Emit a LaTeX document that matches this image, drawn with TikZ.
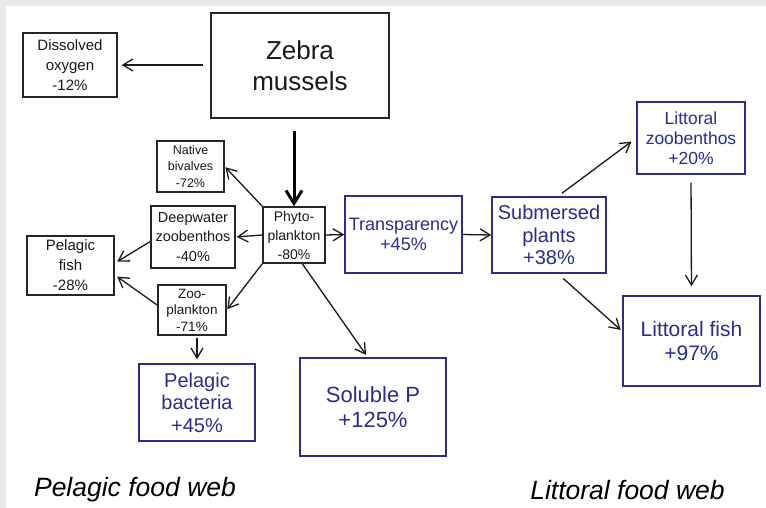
\documentclass[tikz,border=0pt]{standalone}
\usepackage{fontspec}
\setmainfont{Liberation Sans}
\usepackage{tikz}
\usetikzlibrary{arrows.meta}

\definecolor{webnavy}{RGB}{43,45,140}
\definecolor{pagegray}{RGB}{232,233,235}
\newcommand{\fsz}[2]{\fontsize{#1}{#2}\selectfont}

\begin{document}
\begin{tikzpicture}[x=1pt, y=-1pt,
	box/.style={draw=black!85, line width=1.4pt, text=black!90, align=center, inner sep=0pt},
	bluebox/.style={draw=webnavy, line width=1.5pt, text=webnavy, align=center, inner sep=0pt},
	link/.style={-{Straight Barb[length=10pt,width=12pt]}, line width=1.3pt, black!90}]
	\useasboundingbox (0,0) rectangle (766,508);
	\fill[pagegray] (0,0) rectangle (766,508);
	\fill[white] (6,6) rectangle (766,508);
	% mussels and the pelagic side
	\node[box, minimum width=178pt, minimum height=105pt, font=\fsz{26}{31}] (mussels) at (300,65.5) {Zebra\\mussels};
	\node[box, minimum width=94pt, minimum height=64pt, font=\fsz{15}{20}] (oxygen) at (70,65) {Dissolved\\oxygen\\-12\%};
	\node[box, minimum width=67pt, minimum height=51pt, font=\fsz{12.5}{16.5}] (bivalves) at (190.5,166.5) {Native\\bivalves\\-72\%};
	\node[box, minimum width=62pt, minimum height=56pt, font=\fsz{14}{19}] (phyto) at (294,235) {Phyto-\\plankton\\-80\%};
	\node[box, minimum width=84pt, minimum height=62pt, font=\fsz{14.5}{19.5}] (deepwater) at (193,237) {Deepwater\\zoobenthos\\-40\%};
	\node[box, minimum width=87pt, minimum height=59pt, font=\fsz{15}{20}] (pfish) at (70.5,265.5) {Pelagic\\fish\\-28\%};
	\node[box, minimum width=68pt, minimum height=50pt, font=\fsz{13.5}{16.5}] (zoopl) at (192,310) {Zoo-\\plankton\\-71\%};
	\node[bluebox, minimum width=116pt, minimum height=77pt, font=\fsz{20}{22.5}] (bacteria) at (197,402.5) {Pelagic\\bacteria\\+45\%};
	\node[bluebox, minimum width=146pt, minimum height=98pt, font=\fsz{22}{25}] (solubleP) at (373,407) {Soluble P\\+125\%};
	% littoral side
	\node[bluebox, minimum width=117pt, minimum height=77pt, font=\fsz{18}{19.5}] (transp) at (403.5,234.5) {Transparency\\+45\%};
	\node[bluebox, minimum width=114pt, minimum height=76pt, font=\fsz{20}{22.5}] (plants) at (549,235) {Submersed\\plants\\+38\%};
	\node[bluebox, minimum width=108pt, minimum height=72pt, font=\fsz{17.5}{20}] (lzoob) at (691,138) {Littoral\\zoobenthos\\+20\%};
	\node[bluebox, minimum width=137pt, minimum height=90pt, font=\fsz{21}{24}] (lfish) at (691.5,341) {Littoral fish\\+97\%};
	\node[font=\fsz{26.5}{28}\itshape] (pelagicweb) at (135,490) {Pelagic food web};
	\node[font=\fsz{26.5}{28}\itshape] (littoralweb) at (627.5,490) {Littoral food web};
	% arrows
	\draw[link, shorten <=7pt, shorten >=4pt] (mussels.west |- oxygen.east) -- (oxygen.east);
	\draw[-{Straight Barb[length=13pt,width=16pt]}, line width=3pt, shorten <=12pt] (mussels.south -| phyto.north) -- (phyto.north);
	\draw[link, shorten >=1pt] (phyto.north west) -- (bivalves.east);
	\draw[link, shorten >=1pt] (phyto.west) -- (deepwater.east);
	\draw[link, shorten >=1pt] (phyto.south west) -- (zoopl.east);
	\draw[link] (phyto.east) -- (transp.west);
	\draw[link, shorten >=3pt] (phyto.-74) -- (solubleP.96);
	\draw[link, shorten >=3pt] (deepwater.186) -- (pfish.3);
	\draw[link, shorten >=3pt] (zoopl.172) -- (pfish.-12);
	\draw[link, shorten <=2pt, shorten >=4pt] (zoopl.south -| bacteria.north) -- (bacteria.north);
	\draw[link] (transp.east) -- (plants.west);
	\draw[link, shorten <=5pt, shorten >=6pt] (plants.77) -- (lzoob.west);
	\draw[link, shorten <=7pt, shorten >=2pt] (plants.-77) -- (lfish.172);
	\draw[link, shorten <=8pt, shorten >=9pt] (lzoob.south) -- (lfish.north);
\end{tikzpicture}
\end{document}
